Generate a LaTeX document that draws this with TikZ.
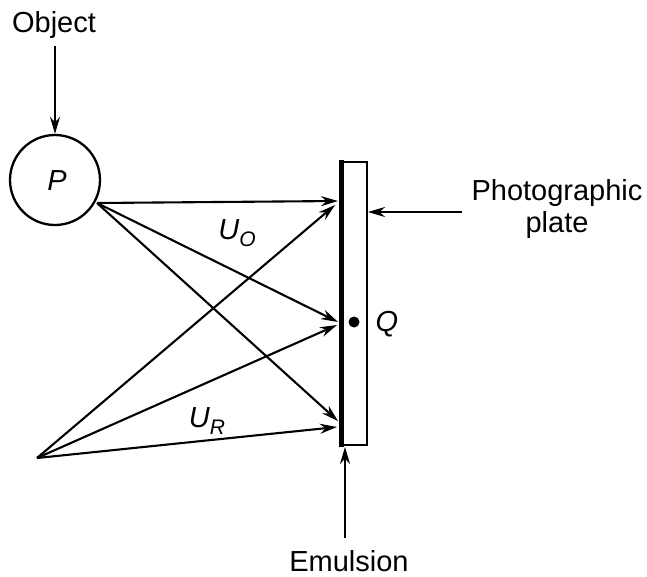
\documentclass[tikz,border=0pt]{standalone}
\usepackage{fontspec}
\setmainfont{Liberation Sans}
\usetikzlibrary{arrows.meta}
\begin{document}
\begin{tikzpicture}[x=1pt,y=-1pt,
  lbl/.style={font=\fontsize{29}{32}\selectfont, inner sep=0pt, align=center},
  ilbl/.style={font=\fontsize{29}{32}\selectfont\itshape, inner sep=0pt},
  ray/.style={line width=2.1pt, -{Stealth[length=17pt,width=10pt]}},
  ptr/.style={line width=2.1pt, -{Stealth[length=17pt,width=10pt]}}]
\useasboundingbox (0,0) rectangle (647,576);
% object
\node[lbl] (obj) at (54,25) {Object};
\node[draw, circle, line width=2.3pt, minimum size=90pt, inner sep=0pt] (P) at (55,180) {};
\node[ilbl] (plab) at (57,181) {P};
\draw[ptr] (55,46) -- (P.north);
% plate
\coordinate (ptl) at (341,162);
\coordinate (pbr) at (367,445);
\draw[line width=2.1pt] (ptl) rectangle (pbr);
\draw[line width=5pt] (341,160) -- (341,447);
% ray points
\coordinate (pO) at (97,203);
\coordinate (R) at (37,458);
\coordinate (tA) at (338,201);
\coordinate (tB) at (338,322);
\coordinate (tC) at (338,421);
\coordinate (rA) at (335,205);
\coordinate (rB) at (337,325);
\coordinate (rC) at (337,427);
\draw[ray] (pO) -- (tA);
\draw[ray] (pO) -- (tB);
\draw[ray] (pO) -- (tC);
\draw[ray] (R) -- (rA);
\draw[ray] (R) -- (rB);
\draw[ray] (R) -- (rC);
% Q
\fill (354,322) circle (5.5pt);
\node[ilbl] (Q) at (387,324) {Q};
% labels U
\node[ilbl] (UO) at (237,233) {U\raisebox{-0.45ex}{\fontsize{21}{23}\selectfont O}};
\node[ilbl] (UR) at (207,421) {U\raisebox{-0.45ex}{\fontsize{21}{23}\selectfont R}};
% photographic plate
\node[lbl] (photo) at (557,209) {Photographic\\plate};
\draw[ptr] (462,212) -- (368,212);
% emulsion
\node[lbl] (emul) at (349,561) {Emulsion};
\draw[ptr] (345,538) -- (345,447);
\end{tikzpicture}
\end{document}
